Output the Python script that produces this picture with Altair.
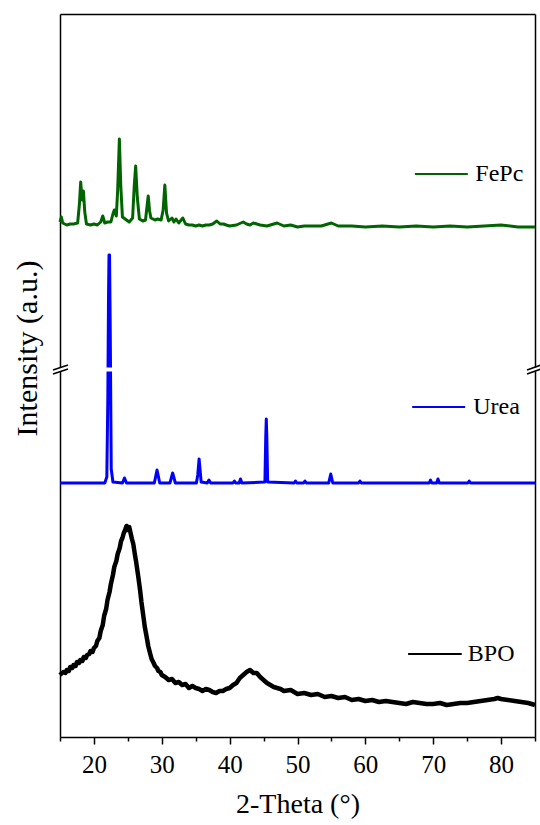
import altair as alt
import pandas as pd

FONT = "Liberation Serif"

# ---------------- data (2-Theta in degrees, intensity in a.u., stacked offsets) ----------------
bpo_theta = [15.0, 15.3, 15.5, 15.8, 16.0, 16.3, 16.5, 16.8, 17.0, 17.3, 17.5, 17.8, 18.0, 18.3,
             18.5, 18.8, 19.0, 19.3, 19.5, 19.8, 20.0, 20.3, 20.5, 20.8, 21.0, 21.3, 21.5, 21.8,
             22.0, 22.3, 22.5, 22.8, 23.0, 23.3, 23.5, 23.8, 24.0, 24.2, 24.4, 24.6, 24.8, 25.0,
             25.2, 25.4, 25.6, 25.8, 26.0, 26.2, 26.5, 26.8, 27.0, 27.3, 27.5, 27.8, 28.0, 28.3,
             28.5, 28.8, 29.0, 29.3, 29.5, 29.8, 30.0, 30.5, 31.0, 31.5, 32.0, 32.5, 33.0, 33.5,
             34.0, 34.5, 35.0, 35.5, 36.0, 36.5, 37.0, 37.5, 38.0, 38.5, 39.0, 39.5, 40.0, 40.5,
             41.0, 41.5, 42.0, 42.5, 43.0, 43.5, 44.0, 44.5, 45.0, 45.5, 46.0, 46.5, 47.0, 47.5,
             48.0, 49.0, 50.0, 51.0, 52.0, 53.0, 54.0, 55.0, 56.0, 57.0, 58.0, 59.0, 60.0, 61.0,
             62.0, 63.0, 64.0, 65.0, 66.0, 67.0, 68.0, 69.0, 70.0, 71.0, 72.0, 73.0, 74.0, 75.0,
             76.0, 77.0, 78.0, 79.0, 79.5, 80.0, 81.0, 82.0, 83.0, 84.0, 85.0]
bpo_int = [62, 64, 65, 64, 67, 66, 70, 69, 72, 71, 75, 74, 77, 76,
           80, 79, 82, 83, 86, 85, 89, 91, 96, 99, 106, 112, 121, 128,
           137, 145, 153, 162, 170, 176, 183, 189, 196, 199, 204, 207, 211, 207,
           210, 204, 198, 193, 184, 176, 162, 147, 135, 120, 110, 99, 91, 83,
           78, 74, 71, 69, 66, 65, 62, 60, 57, 58, 54, 55, 52, 53,
           49, 51, 49, 48, 46, 48, 47, 45, 44, 46, 46, 48, 49, 52,
           54, 59, 62, 65, 67, 64, 64, 60, 57, 54, 52, 50, 49, 48,
           46, 47, 43, 44, 42, 43, 40, 41, 39, 40, 37, 38, 36, 37,
           35, 36, 35, 34, 33, 35, 34, 33, 33, 34, 32, 33, 34, 34,
           35, 36, 37, 38, 39, 38, 37, 36, 35, 34, 32]

urea_theta = [15.0, 18.0, 21.6, 21.9, 22.05, 22.15, 22.22, 22.3, 22.4, 22.55, 22.8, 24.2, 24.5,
              24.8, 28.9, 29.3, 29.7, 31.2, 31.6, 32.0, 35.1, 35.3, 35.5, 35.8, 36.7, 36.95,
              37.2, 40.5, 40.7, 40.9, 41.4, 41.6, 41.8, 45.2, 45.32, 45.4, 45.48, 45.6, 49.5,
              49.7, 49.9, 50.9, 51.1, 51.3, 54.6, 54.9, 55.2, 59.0, 59.2, 59.4, 69.4, 69.6,
              69.8, 70.5, 70.7, 70.9, 75.1, 75.3, 75.5, 85.0]
urea_int = [254, 254, 254, 260, 340, 440, 482, 482, 410, 268, 255, 254, 259,
            254, 254, 267, 254, 254, 264, 254, 254, 262, 278, 255, 254, 257,
            254, 254, 256, 254, 254, 258, 254, 255, 300, 318, 300, 255, 254,
            256, 254, 254, 256, 254, 254, 263, 254, 254, 256, 254, 254, 257,
            254, 254, 258, 254, 254, 256, 254, 254]

fepc_theta = [15.0, 15.2, 15.4, 16.0, 16.5, 17.0, 17.6, 17.85, 18.05, 18.25, 18.45, 18.65, 18.9,
              19.5, 20.0, 20.5, 21.0, 21.3, 21.6, 22.0, 22.5, 22.8, 23.0, 23.3, 23.5, 23.75,
              23.95, 24.2, 24.6, 25.2, 25.7, 25.95, 26.15, 26.4, 26.7, 27.2, 27.6, 27.85, 28.0,
              28.2, 28.4, 29.0, 29.4, 29.9, 30.2, 30.45, 30.7, 31.0, 31.5, 31.8, 32.1, 32.5,
              33.1, 33.5, 34.0, 34.5, 35.0, 35.5, 36.0, 36.5, 37.0, 37.5, 38.1, 38.6, 39.1,
              39.5, 40.0, 41.0, 42.0, 42.5, 43.0, 43.5, 44.5, 45.5, 46.5, 47.0, 48.0, 49.0,
              50.0, 51.0, 52.0, 53.5, 55.0, 56.0, 58.0, 60.0, 62.5, 65.0, 67.5, 70.0, 72.5,
              75.0, 77.5, 80.0, 82.5, 85.0]
fepc_int = [515, 520, 514, 512, 513, 513, 514, 532, 555, 537, 546, 525, 513,
            512, 513, 512, 515, 521, 514, 515, 515, 523, 527, 521, 547, 598,
            552, 520, 518, 515, 519, 552, 571, 539, 518, 516, 517, 532, 541,
            526, 519, 517, 518, 517, 527, 552, 524, 516, 519, 515, 518, 514,
            519, 513, 512, 512, 511, 512, 511, 512, 512, 513, 516, 513, 513,
            512, 511, 512, 515, 513, 512, 514, 512, 511, 513, 514, 511, 512,
            510, 511, 511, 511, 514, 511, 511, 510, 511, 510, 511, 510, 511,
            510, 511, 512, 510, 510]

samples = ["FePc", "Urea", "BPO"]
sample_colors = ["#006400", "#0000FF", "#000000"]

# in-plot legend entries
legend_x0 = [67.3, 66.9, 66.3]
legend_x1 = [75.1, 74.7, 74.2]
legend_tx = [76.2, 75.9, 75.1]
legend_y = [563, 330, 83]

# axis break (scale break indicator)
break_x0 = [13.97, 13.97, 83.82, 83.82]
break_x1 = [16.18, 16.18, 85.88, 85.88]
break_y0 = [367, 363, 367, 363]
break_y1 = [372, 368, 372, 368]
gap_x = [14.2, 85.8]
gap_y = [365.4, 369.4]

x_all_ticks = [15, 20, 25, 30, 35, 40, 45, 50, 55, 60, 65, 70, 75, 80, 85]

# ---------------- frames ----------------
df_bpo = pd.DataFrame({"theta": bpo_theta, "intensity": bpo_int, "sample": "BPO"})
df_urea = pd.DataFrame({"theta": urea_theta, "intensity": urea_int, "sample": "Urea"})
df_fepc = pd.DataFrame({"theta": fepc_theta, "intensity": fepc_int, "sample": "FePc"})
df_leg = pd.DataFrame({"sample": samples, "x0": legend_x0, "x1": legend_x1,
                       "tx": legend_tx, "y": legend_y})
df_break = pd.DataFrame({"x0": break_x0, "x1": break_x1, "y0": break_y0, "y1": break_y1})
df_gap = pd.DataFrame({"x0": [gap_x[0]], "x1": [gap_x[1]], "y0": [gap_y[0]], "y1": [gap_y[1]]})

xs = alt.Scale(domain=[15, 85], nice=False, zero=False)
ys = alt.Scale(domain=[0, 723], nice=False, zero=False)
cs = alt.Scale(domain=samples, range=sample_colors)

x_axis = alt.Axis(
    orient="bottom", values=x_all_ticks,
    labelExpr="datum.value % 10 == 0 ? datum.label : ''",
    tickSize={"condition": {"test": "datum.value % 10 == 0", "value": 7}, "value": 4},
    tickColor="black", tickWidth=1.5, domainColor="black", domainWidth=1.5,
    labelFont=FONT, labelFontSize=25, labelColor="black", labelPadding=8,
    labelOverlap=False, labelFlush=False, grid=False,
    title="2-Theta (°)", titleFont=FONT, titleFontSize=28, titleFontWeight="normal",
    titleColor="black", titlePadding=13,
)
y_axis = alt.Axis(
    orient="left", ticks=False, labels=False, grid=False,
    domainColor="black", domainWidth=1.5,
    title="Intensity (a.u.)", titleFont=FONT, titleFontSize=30, titleFontWeight="normal",
    titleColor="black", titleX=-33, titleY=334, titleAngle=270,
    titleAlign="center", titleBaseline="middle",
)
top_axis = alt.Axis(orient="top", ticks=False, labels=False, grid=False,
                    domainColor="black", domainWidth=1.5)
right_axis = alt.Axis(orient="right", ticks=False, labels=False, grid=False,
                      domainColor="black", domainWidth=1.5)

def line(df, color, width):
    return alt.Chart(df).mark_line(color=color, strokeWidth=width, strokeJoin="round").encode(
        x=alt.X("theta:Q", scale=xs, axis=None),
        y=alt.Y("intensity:Q", scale=ys, axis=None),
    )

base = alt.Chart(df_fepc).mark_line(opacity=0).encode(
    x=alt.X("theta:Q", scale=xs, axis=x_axis),
    y=alt.Y("intensity:Q", scale=ys, axis=y_axis),
)
frame = alt.Chart(df_fepc).mark_line(opacity=0).encode(
    x=alt.X("theta:Q", scale=xs, axis=top_axis, title=None),
    y=alt.Y("intensity:Q", scale=ys, axis=right_axis, title=None),
)

bpo_line = line(df_bpo, "#000000", 4.5)
urea_line = line(df_urea, "#0000FF", 3)
fepc_line = line(df_fepc, "#006400", 3)

gap = alt.Chart(df_gap).mark_rect(color="white").encode(
    x=alt.X("x0:Q", scale=xs, axis=None), x2="x1:Q",
    y=alt.Y("y0:Q", scale=ys, axis=None), y2="y1:Q",
)
slashes = alt.Chart(df_break).mark_rule(color="black", strokeWidth=1.5).encode(
    x=alt.X("x0:Q", scale=xs, axis=None), x2="x1:Q",
    y=alt.Y("y0:Q", scale=ys, axis=None), y2="y1:Q",
)
leg_lines = alt.Chart(df_leg).mark_rule(strokeWidth=2).encode(
    x=alt.X("x0:Q", scale=xs, axis=None), x2="x1:Q",
    y=alt.Y("y:Q", scale=ys, axis=None),
    color=alt.Color("sample:N", scale=cs, legend=None),
)
leg_text = alt.Chart(df_leg).mark_text(
    align="left", baseline="middle", font=FONT, fontSize=24, color="black"
).encode(
    x=alt.X("tx:Q", scale=xs, axis=None),
    y=alt.Y("y:Q", scale=ys, axis=None),
    text="sample:N",
)

chart = alt.layer(
    base, frame, bpo_line, urea_line, fepc_line, gap, slashes, leg_lines, leg_text
).resolve_axis(x="independent", y="independent").properties(
    width=475, height=723,
    autosize=alt.AutoSizeParams(type="none"),
    padding={"left": 60, "top": 14, "right": 5, "bottom": 88},
    background="white",
).configure_view(stroke=None)

chart.save("out.html", embed_options={"renderer": "svg", "actions": False})
